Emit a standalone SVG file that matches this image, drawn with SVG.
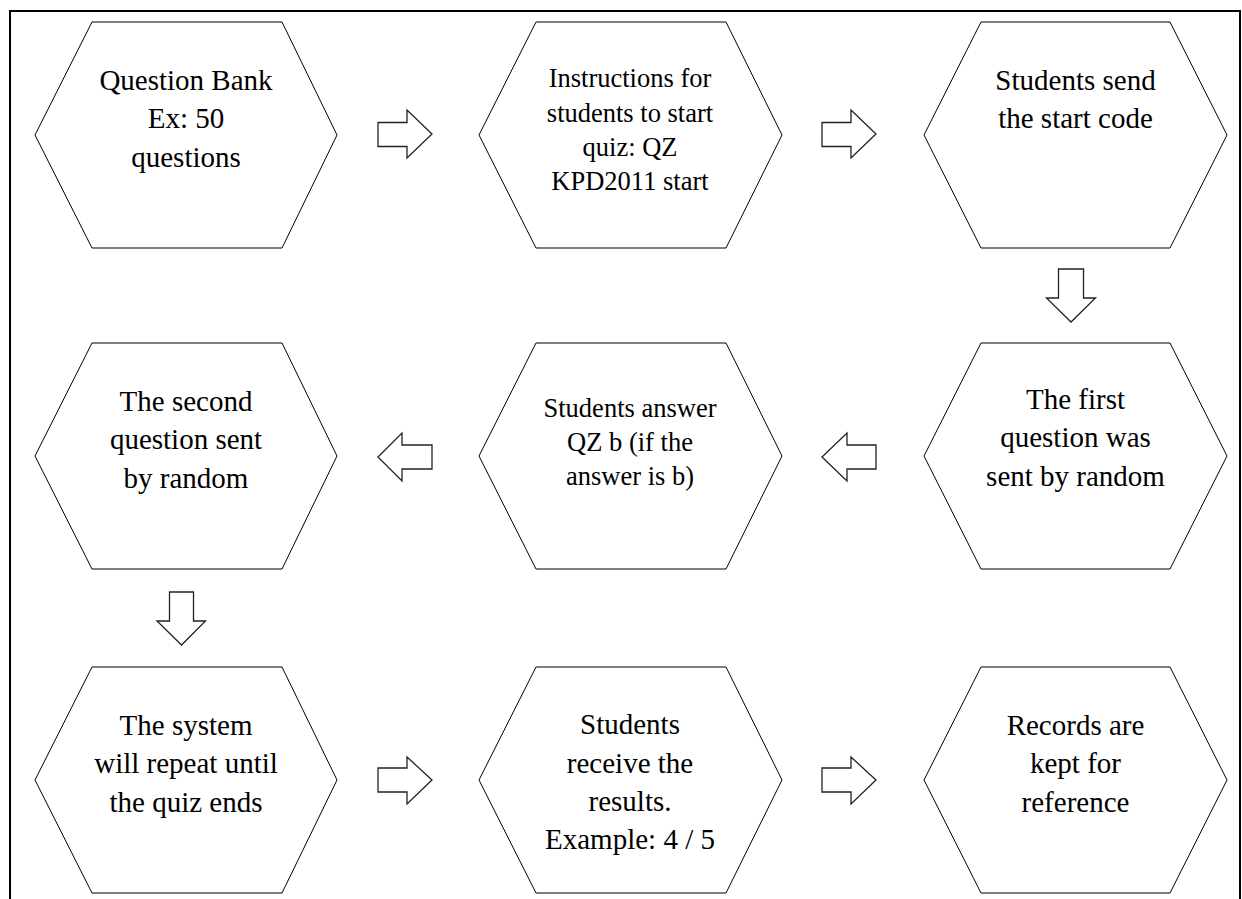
<svg xmlns="http://www.w3.org/2000/svg" width="1242" height="899" viewBox="0 0 1242 899">
<style>
.hex{fill:#fff;stroke:#000;stroke-width:1}
.arr{fill:#fff;stroke:#222;stroke-width:1.3;stroke-linejoin:miter}
.t{font-family:"Liberation Serif","Times New Roman",serif;font-size:29px;fill:#000;text-anchor:middle}
.s{font-size:26.5px}
</style>
<rect x="0" y="0" width="1242" height="899" fill="#fff"/>
<path d="M10,899 V11 H1240 V899" fill="none" stroke="#000" stroke-width="2"/>
<g id="n1"><polygon class="hex" points="92,22 282,22 337,135 282,248 92,248 35,135"/>
<text class="t" x="186"><tspan x="186" y="90">Question Bank</tspan><tspan x="186" y="128.3">Ex: 50</tspan><tspan x="186" y="166.6">questions</tspan></text></g>
<g id="n2"><polygon class="hex" points="536,22 726,22 782,135 726,248 536,248 479,135"/>
<text class="t s"><tspan x="630" y="87.3">Instructions for</tspan><tspan x="630" y="121.5">students to start</tspan><tspan x="630" y="155.7">quiz: QZ</tspan><tspan x="630" y="189.9">KPD2011 start</tspan></text></g>
<g id="n3"><polygon class="hex" points="981,22 1170,22 1227,135 1170,248 981,248 924,135"/>
<text class="t"><tspan x="1075.5" y="90">Students send</tspan><tspan x="1075.5" y="128.3">the start code</tspan></text></g>
<g id="n4"><polygon class="hex" points="981,343 1170,343 1227,456 1170,569 981,569 924,456"/>
<text class="t"><tspan x="1075.5" y="409">The first</tspan><tspan x="1075.5" y="447.3">question was</tspan><tspan x="1075.5" y="485.6">sent by random</tspan></text></g>
<g id="n5"><polygon class="hex" points="536,343 726,343 782,456 726,569 536,569 479,456"/>
<text class="t s"><tspan x="630" y="416.7">Students answer</tspan><tspan x="630" y="450.9">QZ b (if the</tspan><tspan x="630" y="485.1">answer is b)</tspan></text></g>
<g id="n6"><polygon class="hex" points="92,343 282,343 337,456 282,569 92,569 35,456"/>
<text class="t"><tspan x="186" y="411">The second</tspan><tspan x="186" y="449.3">question sent</tspan><tspan x="186" y="487.6">by random</tspan></text></g>
<g id="n7"><polygon class="hex" points="92,667 282,667 337,780 282,893 92,893 35,780"/>
<text class="t"><tspan x="186" y="735">The system</tspan><tspan x="186" y="773.3">will repeat until</tspan><tspan x="186" y="811.6">the quiz ends</tspan></text></g>
<g id="n8"><polygon class="hex" points="536,667 726,667 782,780 726,893 536,893 479,780"/>
<text class="t"><tspan x="630" y="734.3">Students</tspan><tspan x="630" y="772.6">receive the</tspan><tspan x="630" y="810.9">results.</tspan><tspan x="630" y="849.2">Example: 4 / 5</tspan></text></g>
<g id="n9"><polygon class="hex" points="981,667 1170,667 1227,780 1170,893 981,893 924,780"/>
<text class="t"><tspan x="1075.5" y="735">Records are</tspan><tspan x="1075.5" y="773.3">kept for</tspan><tspan x="1075.5" y="811.6">reference</tspan></text></g>
<g id="connectors">
<polygon class="arr" points="378,122.5 407,122.5 407,110 432,134 407,158 407,146.5 378,146.5"/>
<polygon class="arr" points="822,122.5 851,122.5 851,110 876,134 851,158 851,146.5 822,146.5"/>
<polygon class="arr" points="1058.5,269 1083.5,269 1083.5,298 1095.5,298 1071,322 1046.5,298 1058.5,298"/>
<polygon class="arr" points="876,445 847,445 847,433 822,457 847,481 847,469 876,469"/>
<polygon class="arr" points="432,445 402,445 402,433 378,457 402,481 402,469 432,469"/>
<polygon class="arr" points="169.5,592 193.5,592 193.5,621 205.5,621 181.5,645 157,621 169.5,621"/>
<polygon class="arr" points="378,768 407,768 407,757 432,780 407,804 407,792 378,792"/>
<polygon class="arr" points="822,768 851,768 851,757 876,780 851,804 851,792 822,792"/>
</g>
</svg>
